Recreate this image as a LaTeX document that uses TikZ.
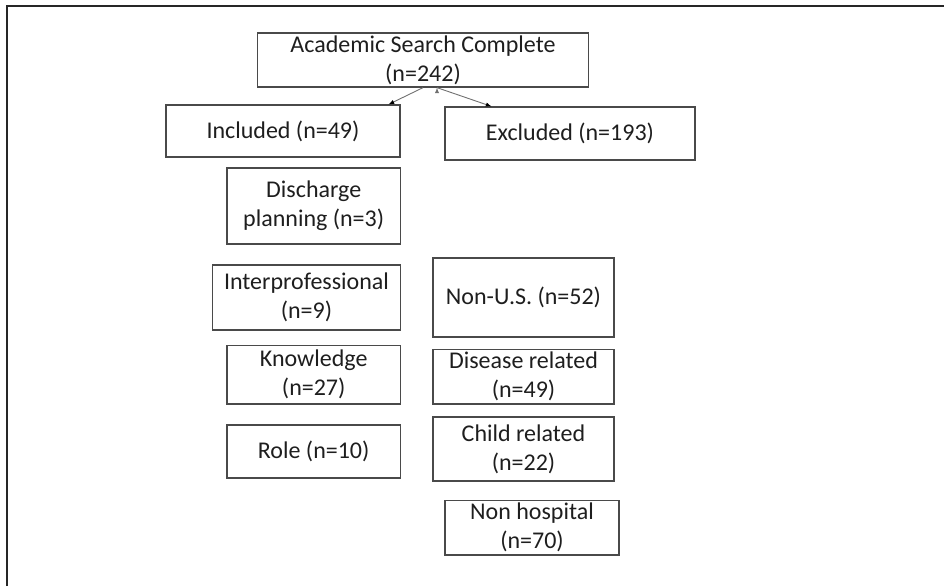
\documentclass[tikz,border=0pt]{standalone}
\usepackage{fontspec}
\setmainfont{Carlito}
\usepackage{tikz}
\usetikzlibrary{arrows}

\definecolor{boxgray}{HTML}{4A4A4A}
\definecolor{txtgray}{HTML}{1E1E1E}
\definecolor{arrgray}{HTML}{707070}

\begin{document}
\begin{tikzpicture}[x=1pt,y=-1pt,->,>=latex,line width=0.9pt]
  \tikzstyle{box}=[draw=boxgray,line width=1.3pt,align=center,inner sep=0pt,
                   text=txtgray,font=\fontsize{24}{29}\selectfont]
  \useasboundingbox (0,0) rectangle (944,586);
  \draw[-,line width=2pt,draw=black!85] (7,586) -- (7,6.5) -- (944,6.5);

  \node[box,minimum width=331pt,minimum height=54pt] (S)  at (423,60)    {Academic Search Complete\\(n=242)};
  \node[box,minimum width=234pt,minimum height=52pt] (I)  at (283,131)   {Included (n=49)};
  \node[box,minimum width=250pt,minimum height=53pt] (E)  at (570,133.5) {Excluded (n=193)};

  \node[box,minimum width=173.5pt,minimum height=76pt]   (I1) at (313.7,206)   {Discharge\\planning (n=3)};
  \node[box,minimum width=188pt,minimum height=65pt]     (I2) at (306.5,297.5) {Interprofessional\\(n=9)};
  \node[box,minimum width=173.5pt,minimum height=58.5pt] (I3) at (313.7,374.7) {Knowledge\\(n=27)};
  \node[box,minimum width=173.5pt,minimum height=53pt]   (I4) at (313.7,451.5) {Role (n=10)};

  \node[box,minimum width=181pt,minimum height=79pt]   (E1) at (523.5,297.5) {Non-U.S. (n=52)};
  \node[box,minimum width=181pt,minimum height=54.5pt] (E2) at (523.5,376.7) {Disease related\\(n=49)};
  \node[box,minimum width=181pt,minimum height=64pt]   (E3) at (523.5,449)   {Child related\\(n=22)};
  \node[box,minimum width=174pt,minimum height=54.5pt] (E4) at (532,527.7)   {Non hospital\\(n=70)};

  \path[draw=arrgray] (S.south)                 edge ([xshift=-12pt]I.north east)
                      ([xshift=14pt]S.south)    edge ([xshift=47pt]E.north west);
\end{tikzpicture}
\end{document}
